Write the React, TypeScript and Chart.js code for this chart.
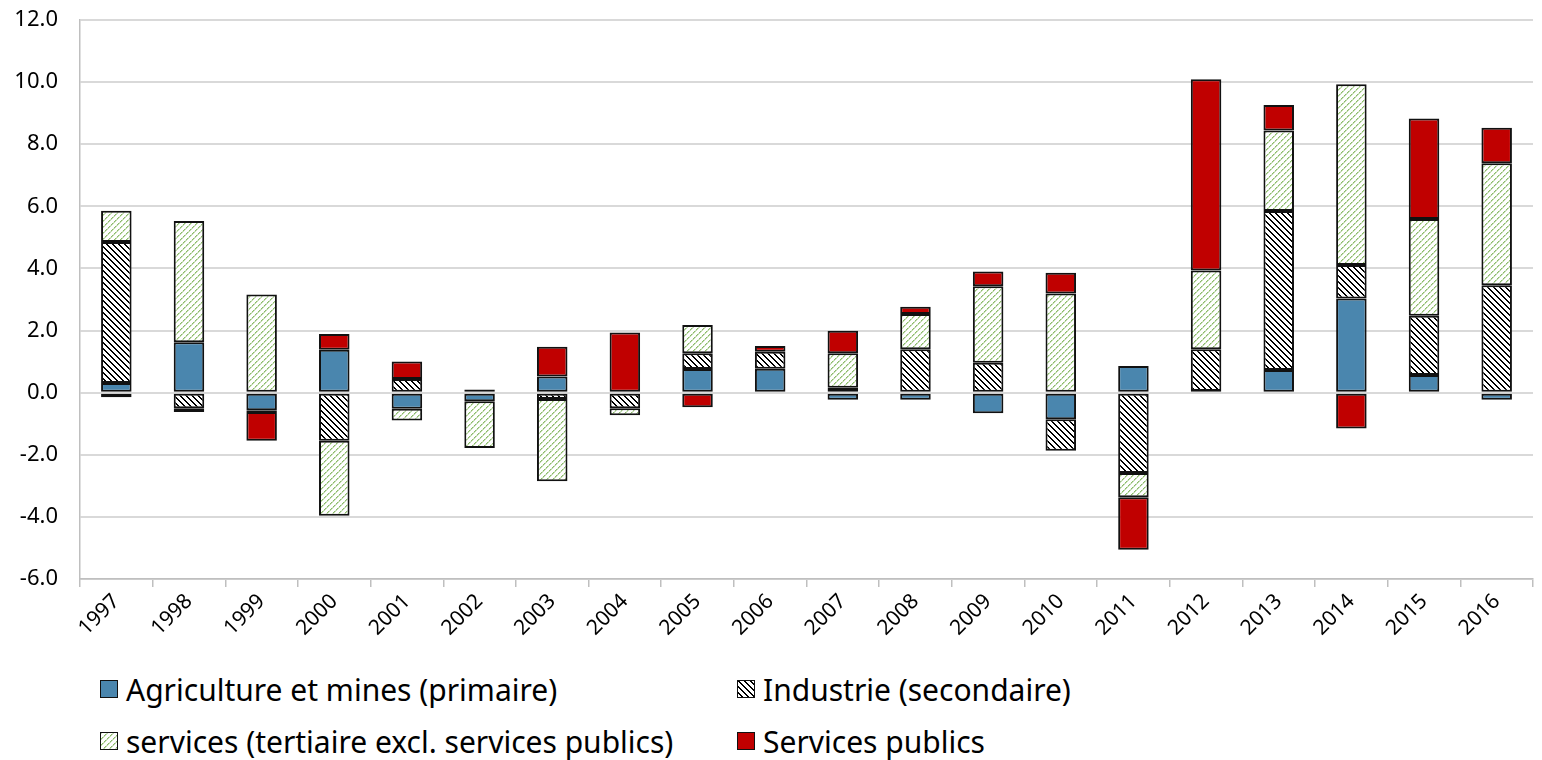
import React, { useEffect, useRef, useState } from "react";
import { Chart, registerables } from "chart.js";

Chart.register(...registerables);

const years = ["1997","1998","1999","2000","2001","2002","2003","2004","2005","2006","2007","2008","2009","2010","2011","2012","2013","2014","2015","2016"];
const agriculture = [0.31, 1.62, -0.57, 1.38, -0.52, -0.28, 0.52, null, 0.76, 0.77, -0.23, -0.23, -0.66, -0.86, 0.86, 0.05, 0.73, 3.03, 0.57, -0.23];
const industrie = [4.54, -0.5, -0.05, -1.55, 0.44, 0.1, -0.2, -0.5, 0.51, 0.55, 0.16, 1.4, 0.96, -1.01, -2.59, 1.35, 5.12, 1.08, 1.91, 3.46];
const services = [1.01, 3.91, 3.16, -2.41, -0.38, -1.5, -2.65, -0.23, 0.91, null, 1.11, 1.13, 2.47, 3.19, -0.78, 2.53, 2.59, 5.82, 3.11, 3.93];
const publics = [-0.15, -0.12, -0.93, 0.51, 0.56, null, 0.96, 1.94, -0.47, 0.18, 0.72, 0.24, 0.47, 0.67, -1.69, 6.16, 0.82, -1.15, 3.24, 1.14];
const seriesNames = [
  "Agriculture et mines (primaire)",
  "Industrie (secondaire)",
  "services (tertiaire excl. services publics)",
  "Services publics",
];
const yTicks = { min: -6, max: 12, step: 2 };

const BLUE = "#4A86AE";
const RED = "#C00000";
const GREEN = "#8CBB6A";
const FONT = "'Noto Sans', 'Open Sans', sans-serif";

function makeIndustrieTile(): HTMLCanvasElement {
  const n = 6;
  const c = document.createElement("canvas");
  c.width = n; c.height = n;
  const ctx = c.getContext("2d")!;
  ctx.fillStyle = "#ffffff";
  ctx.fillRect(0, 0, n, n);
  ctx.fillStyle = "#000000";
  for (let i = 0; i < n; i++) {
    ctx.fillRect(i, i, 1, 1);
    ctx.fillRect((i + 1) % n, i, 1, 1);
  }
  return c;
}

function makeServicesTile(): HTMLCanvasElement {
  const n = 6;
  const c = document.createElement("canvas");
  c.width = n; c.height = n;
  const ctx = c.getContext("2d")!;
  ctx.fillStyle = "#ffffff";
  ctx.fillRect(0, 0, n, n);
  for (let i = 0; i < n; i++) {
    ctx.fillStyle = i % 3 === 2 ? "#cfe3c0" : GREEN;
    ctx.fillRect(i, n - 1 - i, 1, 1);
    ctx.fillStyle = "#c2dbb0";
    ctx.fillRect((i + 1) % n, n - 1 - i, 1, 1);
  }
  return c;
}

export default function App() {
  const canvasRef = useRef<HTMLCanvasElement | null>(null);
  const [tiles, setTiles] = useState<{ ind: string; serv: string } | null>(null);

  useEffect(() => {
    const canvas = canvasRef.current;
    if (!canvas) return;
    const ctx = canvas.getContext("2d")!;
    const indTile = makeIndustrieTile();
    const servTile = makeServicesTile();
    setTiles({ ind: indTile.toDataURL(), serv: servTile.toDataURL() });
    const indPattern = ctx.createPattern(indTile, "repeat")!;
    const servPattern = ctx.createPattern(servTile, "repeat")!;

    const common = {
      borderColor: "#111111",
      borderWidth: 2,
      borderSkipped: false as const,
      categoryPercentage: 1,
      barPercentage: 0.42,
      stack: "s",
    };

    const chart = new Chart(canvas, {
      type: "bar",
      data: {
        labels: years,
        datasets: [
          { label: seriesNames[0], data: agriculture, backgroundColor: BLUE, ...common },
          { label: seriesNames[1], data: industrie, backgroundColor: indPattern, ...common },
          { label: seriesNames[2], data: services, backgroundColor: servPattern, ...common },
          { label: seriesNames[3], data: publics, backgroundColor: RED, ...common },
        ],
      },
      options: {
        animation: false,
        responsive: false,
        devicePixelRatio: 1,
        layout: { padding: { left: 0, right: 9, top: 20, bottom: 0 } },
        plugins: { legend: { display: false }, tooltip: { enabled: false } },
        scales: {
          x: {
            stacked: true,
            offset: true,
            afterFit: (s: any) => { s.height = 81; s.paddingLeft = 0; s.paddingRight = 0; },
            grid: { offset: true, drawOnChartArea: false, drawTicks: true, tickLength: 8, color: "#bfbfbf", lineWidth: 1.5 },
            border: { color: "#bfbfbf", width: 1.5 },
            ticks: { maxRotation: 45, minRotation: 45, color: "#000", font: { family: FONT, size: 21 }, padding: 2 },
          },
          y: {
            stacked: true,
            min: yTicks.min,
            max: yTicks.max,
            afterFit: (s: any) => { s.width = 80; s.paddingTop = 0; s.paddingBottom = 0; },
            grid: { color: "#d9d9d9", lineWidth: 2, drawTicks: false },
            border: { color: "#bfbfbf", width: 1.5 },
            ticks: {
              stepSize: yTicks.step,
              color: "#000",
              padding: 22,
              font: { family: FONT, size: 22 },
              callback: (v: any) => Number(v).toFixed(1),
            },
          },
        },
      },
    });
    return () => chart.destroy();
  }, []);

  const legendItems = [
    { name: seriesNames[0], bg: BLUE, img: null as string | null, x: 100, y: 689 },
    { name: seriesNames[1], bg: "#fff", img: tiles ? tiles.ind : null, x: 737, y: 689 },
    { name: seriesNames[2], bg: "#fff", img: tiles ? tiles.serv : null, x: 100, y: 741 },
    { name: seriesNames[3], bg: RED, img: null as string | null, x: 737, y: 741 },
  ];

  return (
    <div style={{ position: "fixed", left: 0, top: 0, width: 1542, height: 760, background: "#fff", overflow: "hidden" }}>
      <canvas ref={canvasRef} width={1542} height={660} style={{ position: "absolute", left: 0, top: 0, width: 1542, height: 660 }} />
      {legendItems.map((it) => (
        <div key={it.name} style={{ position: "absolute", left: it.x, top: it.y - 22, height: 44, display: "flex", alignItems: "center", fontFamily: FONT, fontSize: 30, color: "#000", whiteSpace: "nowrap" }}>
          <span style={{ display: "inline-block", width: 16, height: 16, border: "1.5px solid #111", background: it.img ? `url(${it.img}) repeat` : it.bg, marginRight: 8 }} />
          <span>{it.name}</span>
        </div>
      ))}
    </div>
  );
}
